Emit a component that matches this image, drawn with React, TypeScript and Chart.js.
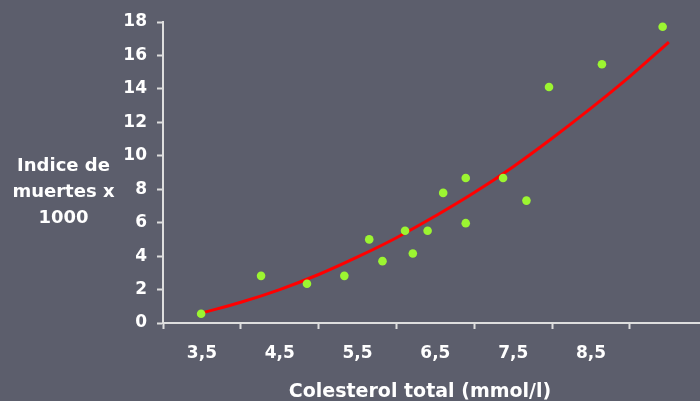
import React, { useEffect, useRef } from "react";
import { Chart, registerables } from "chart.js";

Chart.register(...registerables);

// Scatter data: total cholesterol (mmol/l) vs deaths per 1000
const cholesterol = [3.49, 4.26, 4.85, 5.33, 5.65, 5.82, 6.11, 6.21, 6.4, 6.6, 6.89, 6.89, 7.37, 7.67, 7.96, 8.64, 9.42];
const deaths = [0.55, 2.82, 2.35, 2.82, 5.0, 3.7, 5.52, 4.16, 5.52, 7.78, 8.67, 5.97, 8.67, 7.32, 14.11, 15.47, 17.72];

// Trend line
const trendX = [3.5, 4, 4.5, 5, 5.5, 6, 6.5, 7, 7.5, 8, 8.5, 9, 9.5];
const trendY = [0.6, 1.24, 2.0, 2.9, 3.95, 5.1, 6.4, 7.8, 9.35, 11.05, 12.85, 14.75, 16.8];

// Axis ticks
const xTickMarks = [3, 3.5, 4, 4.5, 5, 5.5, 6, 6.5, 7, 7.5, 8, 8.5, 9];
const xLabelValues = [3.5, 4.5, 5.5, 6.5, 7.5, 8.5];
const xLabelTexts = ["3,5", "4,5", "5,5", "6,5", "7,5", "8,5"];

const yTitleLines = ["Indice de", "muertes x", "1000"];
const xTitle = "Colesterol total (mmol/l)";

const BG = "#5c5e6c";
const AXIS = "#dedede";
const FONT = "'DejaVu Sans', Verdana, sans-serif";

export default function App() {
  const ref = useRef<HTMLCanvasElement | null>(null);

  useEffect(() => {
    document.body.style.margin = "0";
    document.body.style.background = BG;
    const canvas = ref.current;
    if (!canvas) return;
    const chart = new Chart(canvas, {
      type: "scatter",
      data: {
        datasets: [
          {
            label: "data",
            data: cholesterol.map((x, i) => ({ x, y: deaths[i] })),
            backgroundColor: "#9cf531",
            borderWidth: 0,
            pointRadius: 4.3,
            pointHoverRadius: 4.3,
          },
          {
            label: "trend",
            data: trendX.map((x, i) => ({ x, y: trendY[i] })),
            showLine: true,
            borderColor: "#ff0000",
            borderWidth: 3,
            pointRadius: 0,
            tension: 0.4,
            fill: false,
          },
        ],
      },
      options: {
        animation: false,
        responsive: true,
        maintainAspectRatio: false,
        layout: { autoPadding: false, padding: { top: 22, right: 0, left: 0, bottom: 0 } },
        plugins: { legend: { display: false }, tooltip: { enabled: false } },
        scales: {
          x: {
            type: "linear",
            min: 3,
            max: 9.9,
            afterBuildTicks: (scale: any) => {
              scale.ticks = xTickMarks.map((v) => ({ value: v }));
            },
            afterFit: (scale: any) => {
              scale.height = 78;
              scale.paddingRight = 0;
              scale.paddingLeft = 0;
            },
            ticks: {
              color: "#ffffff",
              font: { family: FONT, size: 17, weight: "bold" },
              padding: 14,
              maxRotation: 0,
              autoSkip: false,
              callback: (v: any) => {
                const idx = xLabelValues.indexOf(Number(v));
                return idx >= 0 ? xLabelTexts[idx] : "";
              },
            },
            grid: {
              display: true,
              drawOnChartArea: false,
              drawTicks: true,
              tickLength: 6,
              tickWidth: 2,
              tickColor: (ctx: any) =>
                ctx.tick && Number.isInteger(ctx.tick.value) ? AXIS : "rgba(0,0,0,0)",
            },
            border: { display: true, color: AXIS, width: 2 },
            title: { display: false },
          },
          y: {
            min: 0,
            max: 18,
            afterFit: (scale: any) => {
              scale.width = 163;
            },
            ticks: {
              stepSize: 2,
              color: "#ffffff",
              font: { family: FONT, size: 17, weight: "bold" },
              padding: 10,
            },
            grid: {
              display: true,
              drawOnChartArea: false,
              drawTicks: true,
              tickLength: 6,
              tickWidth: 2,
              tickColor: AXIS,
            },
            border: { display: true, color: AXIS, width: 2 },
          },
        },
      },
    });
    return () => chart.destroy();
  }, []);

  return (
    <div
      style={{
        position: "fixed",
        left: 0,
        top: 0,
        width: 700,
        height: 401,
        background: BG,
        overflow: "hidden",
      }}
    >
      <canvas ref={ref} />
      <div
        style={{
          position: "absolute",
          left: 0,
          top: 152,
          width: 127,
          textAlign: "center",
          color: "#ffffff",
          fontFamily: FONT,
          fontWeight: "bold",
          fontSize: 18,
          lineHeight: "26px",
          pointerEvents: "none",
        }}
      >
        {yTitleLines.map((t, i) => (
          <div key={i}>{t}</div>
        ))}
      </div>
      <div
        style={{
          position: "absolute",
          left: 140,
          top: 379,
          width: 560,
          textAlign: "center",
          color: "#ffffff",
          fontFamily: FONT,
          fontWeight: "bold",
          fontSize: 19,
          lineHeight: "22px",
          whiteSpace: "nowrap",
          pointerEvents: "none",
        }}
      >
        {xTitle}
      </div>
    </div>
  );
}
